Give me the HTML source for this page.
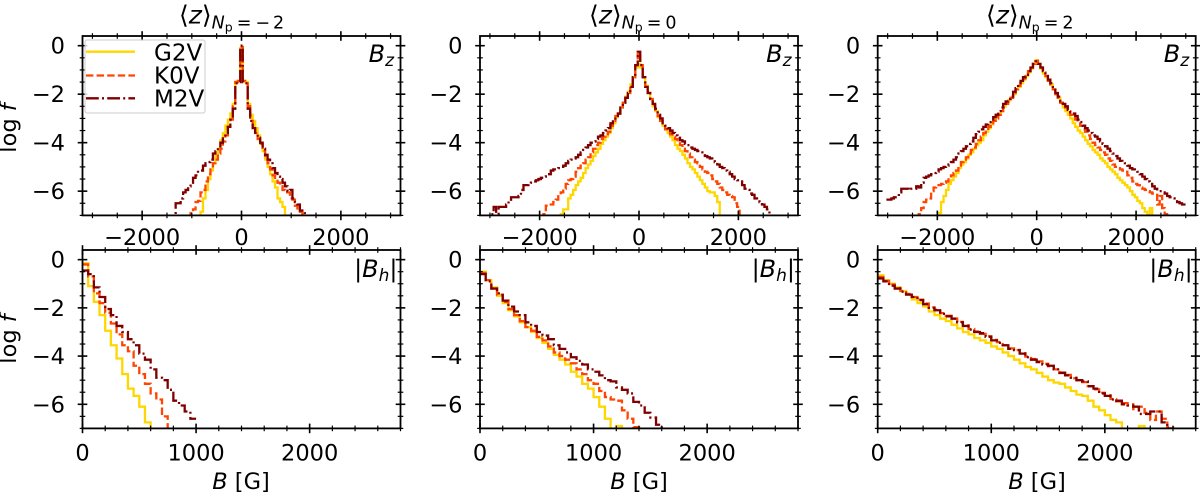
<!DOCTYPE html>
<html lang="en">
<head>
<meta charset="utf-8">
<title>Magnetic field distributions</title>
<style>
html,body{margin:0;padding:0;background:#fff;width:1200px;height:494px;overflow:hidden}
svg{display:block;font-family:"DejaVu Sans","Liberation Sans",sans-serif;fill:#000}
.it{font-style:italic}
</style>
</head>
<body>
<svg id="chart" xmlns="http://www.w3.org/2000/svg" width="1200" height="494" viewBox="0 0 1200 494">
<rect x="0" y="0" width="1200" height="494" fill="#fff"/>
<g id="panels"></g>
<text x="179" y="23.5" font-size="25">⟨<tspan class="it">z</tspan>⟩<tspan class="it" font-size="17.5" dy="5">N</tspan><tspan font-size="12.5" dy="3">p</tspan><tspan font-size="17.5" dy="-3" dx="4">=</tspan><tspan font-size="17.5" dx="4">−</tspan><tspan font-size="17.5" dx="3">2</tspan></text>
<text x="589" y="23.5" font-size="25">⟨<tspan class="it">z</tspan>⟩<tspan class="it" font-size="17.5" dy="5">N</tspan><tspan font-size="12.5" dy="3">p</tspan><tspan font-size="17.5" dy="-3" dx="4">=</tspan><tspan font-size="17.5" dx="4">0</tspan></text>
<text x="986" y="23.5" font-size="25">⟨<tspan class="it">z</tspan>⟩<tspan class="it" font-size="17.5" dy="5">N</tspan><tspan font-size="12.5" dy="3">p</tspan><tspan font-size="17.5" dy="-3" dx="4">=</tspan><tspan font-size="17.5" dx="4">2</tspan></text>
<text transform="translate(16,128) rotate(-90)" text-anchor="middle" font-size="22.5">log <tspan class="it">f</tspan></text>
<text transform="translate(16,339) rotate(-90)" text-anchor="middle" font-size="22.5">log <tspan class="it">f</tspan></text>
<text x="241" y="489" text-anchor="middle" font-size="22.5"><tspan class="it">B</tspan> [G]</text>
<text x="639" y="489" text-anchor="middle" font-size="22.5"><tspan class="it">B</tspan> [G]</text>
<text x="1037" y="489" text-anchor="middle" font-size="22.5"><tspan class="it">B</tspan> [G]</text>
<g>
<rect x="85" y="40" width="120" height="73" rx="2" fill="#fff" fill-opacity="0.8" stroke="#ccc" stroke-width="1"/>
<line x1="86" x2="135" y1="51.7" y2="51.7" stroke="#FFD700" stroke-width="2.3"/>
<text x="154" y="60.5" font-size="23">G2V</text>
<line x1="86" x2="135" y1="75.5" y2="75.5" stroke="#FF4500" stroke-width="2.3" stroke-dasharray="7.4 3.2"/>
<text x="154" y="83.5" font-size="23">K0V</text>
<line x1="86" x2="135" y1="98.3" y2="98.3" stroke="#800000" stroke-width="2.3" stroke-dasharray="12.8 3.2 2 3.2"/>
<text x="154" y="106.5" font-size="23">M2V</text>
</g>
</svg>
<script>
// Shared axis data
const binWidth = 50;
const bzRange = [-3200, 3200];
const bhRange = [0, 2800];
const logRange = [-7, 0.4];
const bzTickLabels = [-2000, 0, 2000];
const bhTickLabels = [0, 1000, 2000];
const logTickLabels = [0, -2, -4, -6];
const starNames = ['G2V', 'K0V', 'M2V'];
const columnNames = ['np-minus-2', 'np-0', 'np-2'];

// Bz histograms: first bin centre (G), then log f per 50 G bin
const bzA_G2V_start = -850;
const bzA_G2V = [-7.5,-6.85,-6.3,-5.95,-5.5,-5.15,-4.85,-4.55,-4.25,-3.9,-3.6,-3.3,-3.05,-2.8,-2.4,-1.5,-1.45,-0.1,-1.45,-1.5,-2.4,-2.85,-3.1,-3.4,-3.7,-4.05,-4.35,-4.7,-5.0,-5.3,-5.6,-5.85,-6.3,-6.45,-6.65,-7.5];
const bzA_K0V_start = -1050;
const bzA_K0V = [-7.5,-6.9,-6.75,-6.45,-6.4,-6.05,-5.95,-5.6,-5.3,-5.05,-4.85,-4.7,-4.45,-4.25,-3.95,-3.7,-3.35,-3.05,-2.5,-1.5,-1.45,-0.05,-1.45,-1.5,-2.5,-3.05,-3.35,-3.6,-3.85,-4.05,-4.35,-4.6,-4.85,-5.1,-5.35,-5.5,-5.65,-5.8,-5.95,-6.05,-6.05,-6.3,-6.35,-6.6,-6.8,-6.85,-7.5];
const bzA_M2V_start = -1350;
const bzA_M2V = [-7.5,-6.5,-6.5,-6.3,-6.05,-5.95,-5.8,-5.65,-5.45,-5.35,-5.15,-5.15,-4.95,-4.85,-4.8,-4.7,-4.45,-4.35,-4.2,-4.0,-3.75,-3.6,-3.35,-3.05,-2.6,-1.55,-1.5,0,-1.5,-1.55,-2.6,-3.1,-3.4,-3.65,-3.8,-4.0,-4.25,-4.5,-4.7,-4.85,-5.05,-5.25,-5.4,-5.5,-5.65,-5.8,-6.0,-5.95,-6.3,-6.45,-6.55,-6.8,-6.85,-7.5];

const bzB_G2V_start = -1600;
const bzB_G2V = [-7.5,-6.95,-6.75,-6.75,-6.3,-6.15,-5.95,-5.75,-5.6,-5.45,-5.25,-5.05,-4.9,-4.75,-4.55,-4.4,-4.25,-4.05,-3.9,-3.75,-3.6,-3.4,-3.2,-2.95,-2.8,-2.55,-2.35,-2.1,-1.9,-1.6,-1.3,-0.9,-0.75,-0.9,-1.3,-1.65,-1.95,-2.2,-2.5,-2.7,-2.95,-3.1,-3.3,-3.45,-3.6,-3.75,-3.9,-4.1,-4.25,-4.35,-4.5,-4.65,-4.85,-5.0,-5.1,-5.25,-5.4,-5.55,-5.7,-5.85,-6.0,-6.05,-6.05,-6.2,-6.45,-7.5];
const bzB_K0V_start = -1950;
const bzB_K0V = [-7.5,-6.95,-6.6,-6.6,-6.55,-6.45,-6.35,-6.15,-6.05,-5.9,-5.7,-5.55,-5.5,-5.4,-5.2,-5.05,-4.95,-4.85,-4.7,-4.6,-4.4,-4.25,-4.1,-4.0,-3.85,-3.75,-3.65,-3.55,-3.3,-3.1,-2.9,-2.8,-2.55,-2.35,-2.15,-1.95,-1.7,-1.3,-0.8,-0.3,-0.8,-1.3,-1.7,-1.95,-2.2,-2.45,-2.7,-2.9,-3.1,-3.3,-3.45,-3.55,-3.65,-3.75,-3.85,-3.95,-4.1,-4.25,-4.35,-4.45,-4.6,-4.7,-4.8,-4.85,-5.0,-5.1,-5.2,-5.25,-5.35,-5.5,-5.6,-5.7,-5.85,-5.95,-6.05,-6.15,-6.2,-6.25,-6.5,-6.65,-7.5];
const bzB_M2V_start = -3000;
const bzB_M2V = [-7.5,-6.95,-6.65,-6.95,-6.65,-6.65,-6.65,-6.55,-6.4,-6.25,-6.25,-6.25,-6.2,-5.95,-5.75,-5.75,-5.7,-5.65,-5.6,-5.55,-5.5,-5.45,-5.4,-5.3,-5.3,-5.15,-5.1,-5.1,-5.05,-5.0,-4.95,-4.85,-4.75,-4.7,-4.65,-4.6,-4.5,-4.4,-4.3,-4.2,-4.1,-4.0,-3.95,-3.85,-3.75,-3.7,-3.6,-3.5,-3.4,-3.2,-3.05,-2.9,-2.8,-2.55,-2.35,-2.15,-1.95,-1.7,-1.3,-0.8,-0.25,-0.8,-1.3,-1.7,-1.95,-2.2,-2.4,-2.6,-2.85,-3.0,-3.2,-3.3,-3.4,-3.5,-3.6,-3.7,-3.8,-3.9,-3.95,-4.05,-4.1,-4.2,-4.25,-4.3,-4.35,-4.4,-4.45,-4.55,-4.6,-4.65,-4.7,-4.8,-4.9,-5.0,-5.05,-5.15,-5.2,-5.3,-5.4,-5.5,-5.55,-5.6,-5.75,-5.9,-5.95,-6.1,-6.15,-6.3,-6.35,-6.45,-6.55,-6.65,-6.75,-7.5];

const bzC_G2V_start = -2000;
const bzC_G2V = [-7.5,-6.9,-6.45,-6.2,-5.95,-5.7,-5.55,-5.4,-5.25,-5.05,-4.9,-4.8,-4.65,-4.5,-4.4,-4.25,-4.1,-4.0,-3.9,-3.7,-3.55,-3.4,-3.25,-3.1,-2.95,-2.85,-2.7,-2.5,-2.35,-2.25,-2.15,-2.0,-1.8,-1.7,-1.55,-1.4,-1.25,-1.1,-0.95,-0.75,-0.6,-0.75,-0.95,-1.15,-1.3,-1.45,-1.6,-1.8,-1.95,-2.15,-2.35,-2.55,-2.7,-2.85,-3.0,-3.2,-3.35,-3.5,-3.6,-3.75,-3.9,-4.05,-4.15,-4.3,-4.4,-4.5,-4.65,-4.75,-4.85,-5.0,-5.1,-5.2,-5.3,-5.45,-5.55,-5.65,-5.75,-5.85,-6.0,-6.15,-6.25,-6.4,-6.5,-6.7,-6.85,-7.5,-6.7,-7.5];
const bzC_K0V_start = -2400;
const bzC_K0V = [-7.5,-6.95,-6.7,-6.45,-6.35,-6.3,-6.0,-5.85,-5.8,-5.75,-5.7,-5.65,-5.6,-5.45,-5.35,-5.25,-5.15,-4.95,-4.8,-4.7,-4.6,-4.45,-4.3,-4.2,-4.05,-3.9,-3.75,-3.6,-3.5,-3.35,-3.2,-3.1,-3.0,-2.85,-2.7,-2.55,-2.4,-2.3,-2.15,-1.95,-1.8,-1.65,-1.5,-1.35,-1.2,-1.05,-0.9,-0.75,-0.62,-0.75,-0.9,-1.1,-1.25,-1.45,-1.6,-1.8,-2.0,-2.15,-2.35,-2.45,-2.55,-2.7,-2.85,-2.95,-3.05,-3.2,-3.3,-3.45,-3.55,-3.7,-3.85,-4.0,-4.1,-4.2,-4.3,-4.4,-4.5,-4.65,-4.75,-4.9,-5.0,-5.05,-5.1,-5.15,-5.2,-5.35,-5.45,-5.6,-5.7,-5.75,-5.85,-5.9,-5.95,-6.0,-6.05,-6.1,-6.15,-6.55,-6.2,-6.7,-6.95,-7.5];
const bzC_M2V_start = -3000;
const bzC_M2V = [-6.35,-6.35,-6.3,-6.25,-6.25,-6.05,-5.9,-5.9,-5.9,-5.95,-5.9,-5.9,-5.8,-5.85,-5.65,-5.45,-5.4,-5.35,-5.3,-5.25,-5.2,-5.1,-5.05,-5.0,-4.95,-4.9,-4.8,-4.7,-4.6,-4.45,-4.35,-4.25,-4.15,-4.05,-3.95,-3.8,-3.65,-3.55,-3.45,-3.35,-3.25,-3.15,-3.05,-2.95,-2.85,-2.7,-2.55,-2.4,-2.3,-2.2,-2.1,-1.9,-1.75,-1.6,-1.45,-1.3,-1.2,-1.05,-0.9,-0.75,-0.65,-0.75,-0.9,-1.05,-1.25,-1.4,-1.55,-1.75,-1.95,-2.1,-2.3,-2.4,-2.5,-2.65,-2.75,-2.8,-2.9,-3.05,-3.15,-3.3,-3.4,-3.5,-3.6,-3.7,-3.75,-3.85,-3.95,-4.05,-4.15,-4.25,-4.35,-4.45,-4.55,-4.65,-4.75,-4.8,-4.85,-4.95,-5.05,-5.1,-5.15,-5.2,-5.3,-5.4,-5.5,-5.6,-5.7,-5.8,-5.9,-6.0,-6.0,-6.05,-6.1,-6.2,-6.25,-6.3,-6.35,-6.45,-6.5,-6.55,-6.55];

// |Bh| histograms: first bin centre is 25 G, log f per 50 G bin
const bhStart = 25;
const bhA_G2V = [-0.15,-1.1,-1.75,-2.3,-2.95,-3.55,-4.1,-4.75,-5.35,-5.65,-6.1,-6.75,-7.5];
const bhA_K0V = [-0.2,-0.7,-1.4,-1.8,-2.2,-2.65,-3.1,-3.55,-3.8,-4.4,-4.75,-5.15,-5.55,-5.8,-6.5,-7.5];
const bhA_M2V = [-0.45,-0.6,-1.15,-1.55,-2.05,-2.3,-2.75,-3.0,-3.3,-3.55,-3.9,-4.15,-4.55,-4.9,-5.0,-5.4,-5.85,-6.05,-6.3,-6.6];

const bhB_G2V = [-0.5,-0.85,-1.15,-1.5,-1.8,-2.1,-2.35,-2.6,-2.8,-3.0,-3.25,-3.45,-3.7,-3.95,-4.15,-4.35,-4.65,-4.85,-5.15,-5.35,-5.7,-6.1,-6.6,-7.5,-6.9,-7.5];
const bhB_K0V = [-0.55,-0.85,-1.2,-1.45,-1.75,-2.05,-2.3,-2.55,-2.8,-2.95,-3.2,-3.35,-3.6,-3.85,-4.0,-4.15,-4.3,-4.55,-4.75,-5.0,-5.15,-5.45,-5.7,-5.8,-5.85,-6.25,-6.6,-6.95,-7.5];
const bhB_M2V = [-0.6,-0.9,-1.2,-1.4,-1.7,-1.95,-2.15,-2.3,-2.6,-2.75,-3.0,-3.15,-3.3,-3.55,-3.7,-3.85,-4.05,-4.2,-4.35,-4.55,-4.65,-4.8,-5.0,-5.05,-5.3,-5.4,-5.55,-5.9,-6.05,-6.35,-6.55,-6.85,-7.5];

const bhC_G2V = [-0.65,-0.85,-1.0,-1.15,-1.3,-1.45,-1.65,-1.8,-1.95,-2.15,-2.3,-2.45,-2.55,-2.7,-2.85,-3.0,-3.1,-3.25,-3.35,-3.45,-3.6,-3.7,-3.85,-4.0,-4.15,-4.3,-4.45,-4.55,-4.7,-4.85,-5.0,-5.1,-5.15,-5.3,-5.45,-5.6,-5.65,-5.85,-6.1,-6.25,-6.45,-6.65,-6.75,-7.5,-7.5,-7.5,-6.9,-7.5];
const bhC_K0V = [-0.72,-0.88,-1.03,-1.17,-1.3,-1.42,-1.55,-1.66,-1.82,-1.98,-2.08,-2.22,-2.33,-2.44,-2.58,-2.72,-2.88,-2.98,-3.08,-3.18,-3.33,-3.42,-3.55,-3.68,-3.75,-3.88,-4.02,-4.12,-4.22,-4.32,-4.42,-4.55,-4.68,-4.78,-4.92,-5.0,-5.08,-5.25,-5.38,-5.52,-5.62,-5.78,-5.88,-5.95,-6.0,-6.2,-6.1,-6.35,-6.65,-6.3,-6.6,-6.95,-7.5];
const bhC_M2V = [-0.78,-0.9,-1.08,-1.2,-1.33,-1.45,-1.55,-1.68,-1.85,-2.0,-2.1,-2.25,-2.35,-2.45,-2.6,-2.75,-2.9,-3.0,-3.05,-3.2,-3.35,-3.45,-3.55,-3.7,-3.75,-3.9,-4.05,-4.15,-4.25,-4.35,-4.4,-4.55,-4.7,-4.8,-4.9,-5.0,-5.05,-5.25,-5.35,-5.55,-5.65,-5.8,-5.85,-6.0,-6.05,-6.1,-6.4,-6.4,-6.3,-6.3,-6.75,-7.0,-7.5];

const topRow = [
  [[bzA_G2V, bzA_G2V_start], [bzA_K0V, bzA_K0V_start], [bzA_M2V, bzA_M2V_start]],
  [[bzB_G2V, bzB_G2V_start], [bzB_K0V, bzB_K0V_start], [bzB_M2V, bzB_M2V_start]],
  [[bzC_G2V, bzC_G2V_start], [bzC_K0V, bzC_K0V_start], [bzC_M2V, bzC_M2V_start]]
];
const bottomRow = [
  [[bhA_G2V, bhStart], [bhA_K0V, bhStart], [bhA_M2V, bhStart]],
  [[bhB_G2V, bhStart], [bhB_K0V, bhStart], [bhB_M2V, bhStart]],
  [[bhC_G2V, bhStart], [bhC_K0V, bhStart], [bhC_M2V, bhStart]]
];

const NS = 'http://www.w3.org/2000/svg';
const root = document.getElementById('panels');
const seriesColor = ['#FFD700', '#FF4500', '#800000'];
const seriesDash = ['none', '7.4 3.2', '12.8 3.2 2 3.2'];
const lefts = [82.5, 480, 877.7];
const panelW = 318;
const rows = [{top: 36, bottom: 215.4}, {top: 250, bottom: 428.4}];

function mk(tag, parent) {
  const el = document.createElementNS(NS, tag);
  parent.appendChild(el);
  return el;
}
function scale(domain, a, b) {
  return v => a + (v - domain[0]) * (b - a) / (domain[1] - domain[0]);
}
function fmt(v) {
  return v < 0 ? '\u2212' + Math.abs(v) : String(v);
}
function tick(g, x1, y1, x2, y2, w) {
  const t = mk('line', g);
  
  
  t.setAttribute('x1', x1);
  t.setAttribute('y1', y1);
  t.setAttribute('x2', x2);
  t.setAttribute('y2', y2);
  t.setAttribute('stroke', '#000');
  t.setAttribute('stroke-width', w);
}
function label(g, x, y, anchor, str) {
  const t = mk('text', g);
  
  
  t.setAttribute('x', x);
  t.setAttribute('y', y);
  t.setAttribute('text-anchor', anchor);
  t.setAttribute('font-size', '22.5');
  t.textContent = str;
}
function stepPath(vals, start, sx, sy) {
  let d = '';
  vals.forEach((v, i) => {
    const c = start + i * binWidth;
    const x0 = sx(c - binWidth / 2).toFixed(2);
    const x1 = sx(c + binWidth / 2).toFixed(2);
    const y = sy(v).toFixed(2);
    d += (i === 0 ? 'M' : 'L') + x0 + ' ' + y + 'L' + x1 + ' ' + y;
  });
  return d;
}
function drawPanel(col, rowIdx) {
  const isTop = rowIdx === 0;
  const L = lefts[col], R = L + panelW, T = rows[rowIdx].top, B = rows[rowIdx].bottom;
  const xDom = isTop ? bzRange : bhRange;
  const sx = scale(xDom, L, R);
  const sy = scale(logRange, B, T);
  const g = mk('g', root);
  
  

  const clipId = 'clip' + rowIdx + col;
  const cp = mk('clipPath', g);
  cp.setAttribute('id', clipId);
  const cr = mk('rect', cp);
  cr.setAttribute('x', L);
  cr.setAttribute('y', T);
  cr.setAttribute('width', panelW);
  cr.setAttribute('height', B - T);

  const data = (isTop ? topRow : bottomRow)[col];
  data.forEach((s, i) => {
    const p = mk('path', g);
    
    
    p.setAttribute('d', stepPath(s[0], s[1], sx, sy));
    p.setAttribute('fill', 'none');
    p.setAttribute('stroke', seriesColor[i]);
    p.setAttribute('stroke-width', '2.3');
    p.setAttribute('stroke-linejoin', 'miter');
    p.setAttribute('stroke-dasharray', seriesDash[i]);
    p.setAttribute('clip-path', 'url(#' + clipId + ')');
  });

  const minorStep = isTop ? 500 : 200;
  const majorStep = isTop ? 2000 : 1000;
  const first = Math.ceil(xDom[0] / minorStep) * minorStep;
  for (let v = first; v <= xDom[1]; v += minorStep) {
    const major = v % majorStep === 0;
    const h = major ? 4.8 : 2.8;
    const w = major ? 1.6 : 1.2;
    tick(g, sx(v), T - h, sx(v), T + h, w);
    tick(g, sx(v), B - h, sx(v), B + h, w);
  }
  for (let v = logRange[0]; v <= logRange[1]; v += 0.5) {
    const major = v % 2 === 0;
    const h = major ? 4.8 : 2.8;
    const w = major ? 1.6 : 1.2;
    tick(g, L - h, sy(v), L + h, sy(v), w);
    tick(g, R - h, sy(v), R + h, sy(v), w);
  }

  const frame = mk('rect', g);
  
  
  frame.setAttribute('x', L);
  frame.setAttribute('y', T);
  frame.setAttribute('width', panelW);
  frame.setAttribute('height', B - T);
  frame.setAttribute('fill', 'none');
  frame.setAttribute('stroke', '#000');
  frame.setAttribute('stroke-width', '1.8');

  (isTop ? bzTickLabels : bhTickLabels).forEach(v => label(g, sx(v), B + (isTop ? 29.5 : 32), 'middle', fmt(v)));
  logTickLabels.forEach(v => label(g, L - 17.5, sy(v) + 8, 'end', fmt(v)));

  const cap = mk('text', g);
  
  
  cap.setAttribute('x', R - (isTop ? 6.5 : 3));
  cap.setAttribute('y', T + (isTop ? 26 : 27));
  cap.setAttribute('text-anchor', 'end');
  cap.setAttribute('font-size', '24');
  const a = mk('tspan', cap);
  a.textContent = isTop ? '' : '|';
  const b = mk('tspan', cap);
  b.setAttribute('class', 'it');
  b.textContent = 'B';
  const c = mk('tspan', cap);
  c.setAttribute('class', 'it');
  c.setAttribute('font-size', '17');
  c.setAttribute('dy', '4');
  c.textContent = isTop ? 'z' : 'h';
  const d = mk('tspan', cap);
  d.setAttribute('dy', '-4');
  d.textContent = isTop ? '' : '|';
}
for (let col = 0; col < 3; col++) {
  drawPanel(col, 0);
  drawPanel(col, 1);
}
</script>
</body>
</html>
